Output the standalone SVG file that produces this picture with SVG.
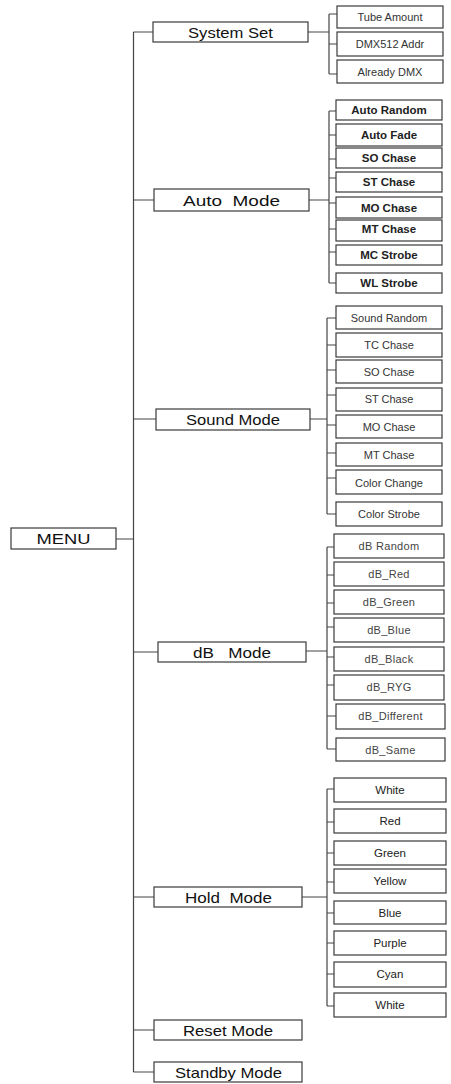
<svg xmlns="http://www.w3.org/2000/svg" width="451" height="1084" viewBox="0 0 451 1084">
<style>
.box{fill:#fff;stroke:#3a3a3a;stroke-width:1.2}
.ln{stroke:#444;stroke-width:1.2;fill:none}
text{font-family:"Liberation Sans",Arial,sans-serif;text-anchor:middle}
.main{font-size:15px;fill:#111}
.sub{font-size:11px;fill:#333}
.b{font-weight:bold;fill:#222;font-size:11.5px}
.h{font-size:11.5px;fill:#222}
.d{font-size:11px;fill:#444;letter-spacing:0.3px}
</style>
<rect width="451" height="1084" fill="#fff"/>
<g id="connectors" class="ln">
<path d="M133.5 32V1072M116 539H133.5"/>
<path d="M133.5 32H153M133.5 200H154M133.5 419H156M133.5 652H158M133.5 897H154M133.5 1030H154M133.5 1072H154"/>
<path d="M308 32H329M329 14V74M329 14H337M329 44H337M329 74H337"/>
<path d="M309 200H329M329 111V283M329 111H336M329 135H336M329 159H336M329 178H336M329 203H336M329 229H336M329 252H336M329 283H336"/>
<path d="M310 419H327M327 318V514M327 318H336M327 345H336M327 370H336M327 395H336M327 425H336M327 453H336M327 478H336M327 514H336"/>
<path d="M306 651H327M327 547V749M327 547H334M327 575H334M327 603H334M327 627H334M327 657H334M327 685H334M327 716H336M327 749H336"/>
<path d="M302 897H327M327 789V1006M327 789H334M327 822H334M327 853H334M327 882H334M327 913H334M327 943H334M327 974H334M327 1006H334"/>
</g>
<g id="menu"><rect class="box" x="11" y="528" width="105" height="21"/><text class="main" x="63.5" y="544" textLength="54" lengthAdjust="spacingAndGlyphs">MENU</text></g>
<g id="system-set"><rect class="box" x="153" y="22" width="155" height="20"/><text class="main" x="230.5" y="37.5" textLength="85" lengthAdjust="spacingAndGlyphs">System Set</text></g>
<g id="tube-amount"><rect class="box" x="337" y="6" width="106" height="22"/><text class="sub" x="390" y="21">Tube Amount</text></g>
<g id="dmx512-addr"><rect class="box" x="337" y="32" width="106" height="24"/><text class="sub" x="390" y="48">DMX512 Addr</text></g>
<g id="already-dmx"><rect class="box" x="337" y="60" width="106" height="23"/><text class="sub" x="390" y="75.5">Already DMX</text></g>
<g id="auto-mode"><rect class="box" x="154" y="189" width="155" height="22"/><text class="main" x="231.5" y="205.5" textLength="97" lengthAdjust="spacingAndGlyphs" xml:space="preserve">Auto  Mode</text></g>
<g id="auto-random"><rect class="box" x="336" y="100" width="106" height="20"/><text class="b" x="389" y="114">Auto Random</text></g>
<g id="auto-fade"><rect class="box" x="336" y="124" width="106" height="22"/><text class="b" x="389" y="139">Auto Fade</text></g>
<g id="auto-so-chase"><rect class="box" x="336" y="148" width="106" height="20"/><text class="b" x="389" y="162">SO Chase</text></g>
<g id="auto-st-chase"><rect class="box" x="336" y="172" width="106" height="20"/><text class="b" x="389" y="186">ST Chase</text></g>
<g id="auto-mo-chase"><rect class="box" x="336" y="197" width="106" height="21"/><text class="b" x="389" y="211.5">MO Chase</text></g>
<g id="auto-mt-chase"><rect class="box" x="336" y="220" width="106" height="21"/><text class="b" x="389" y="233">MT Chase</text></g>
<g id="mc-strobe"><rect class="box" x="336" y="245" width="106" height="20"/><text class="b" x="389" y="258.5">MC Strobe</text></g>
<g id="wl-strobe"><rect class="box" x="336" y="273" width="106" height="20"/><text class="b" x="389" y="287">WL Strobe</text></g>
<g id="sound-mode"><rect class="box" x="156" y="409" width="154" height="21"/><text class="main" x="233" y="425" textLength="94" lengthAdjust="spacingAndGlyphs">Sound Mode</text></g>
<g id="sound-random"><rect class="box" x="336" y="306" width="106" height="23"/><text class="sub" x="389" y="321.5">Sound Random</text></g>
<g id="tc-chase"><rect class="box" x="336" y="333" width="106" height="24"/><text class="sub" x="389" y="349">TC Chase</text></g>
<g id="sound-so-chase"><rect class="box" x="336" y="360" width="106" height="23"/><text class="sub" x="389" y="376">SO Chase</text></g>
<g id="sound-st-chase"><rect class="box" x="336" y="388" width="106" height="23"/><text class="sub" x="389" y="403">ST Chase</text></g>
<g id="sound-mo-chase"><rect class="box" x="336" y="415" width="106" height="23"/><text class="sub" x="389" y="431">MO Chase</text></g>
<g id="sound-mt-chase"><rect class="box" x="336" y="443" width="106" height="23"/><text class="sub" x="389" y="458.5">MT Chase</text></g>
<g id="color-change"><rect class="box" x="336" y="470" width="106" height="24"/><text class="sub" x="389" y="487">Color Change</text></g>
<g id="color-strobe"><rect class="box" x="336" y="502" width="106" height="24"/><text class="sub" x="389" y="518">Color Strobe</text></g>
<g id="db-mode"><rect class="box" x="158" y="642" width="148" height="20"/><text class="main" x="232" y="657.5" textLength="78" lengthAdjust="spacingAndGlyphs" xml:space="preserve">dB   Mode</text></g>
<g id="db-random"><rect class="box" x="334" y="534" width="110" height="24"/><text class="d" x="389" y="550">dB Random</text></g>
<g id="db-red"><rect class="box" x="334" y="562" width="110" height="24"/><text class="d" x="389" y="578">dB_Red</text></g>
<g id="db-green"><rect class="box" x="334" y="590" width="110" height="24"/><text class="d" x="389" y="606">dB_Green</text></g>
<g id="db-blue"><rect class="box" x="334" y="618" width="110" height="24"/><text class="d" x="389" y="634">dB_Blue</text></g>
<g id="db-black"><rect class="box" x="334" y="647" width="110" height="24"/><text class="d" x="389" y="663">dB_Black</text></g>
<g id="db-ryg"><rect class="box" x="334" y="675" width="110" height="25"/><text class="d" x="389" y="691">dB_RYG</text></g>
<g id="db-different"><rect class="box" x="336" y="704" width="109" height="25"/><text class="d" x="390.5" y="720">dB_Different</text></g>
<g id="db-same"><rect class="box" x="336" y="738" width="109" height="23"/><text class="d" x="390.5" y="754">dB_Same</text></g>
<g id="hold-mode"><rect class="box" x="154" y="887" width="148" height="20"/><text class="main" x="228.5" y="902.5" textLength="87" lengthAdjust="spacingAndGlyphs" xml:space="preserve">Hold  Mode</text></g>
<g id="hold-white-1"><rect class="box" x="334" y="778" width="112" height="24"/><text class="h" x="390" y="794">White</text></g>
<g id="hold-red"><rect class="box" x="334" y="809" width="112" height="24"/><text class="h" x="390" y="825">Red</text></g>
<g id="hold-green"><rect class="box" x="334" y="841" width="112" height="24"/><text class="h" x="390" y="857">Green</text></g>
<g id="hold-yellow"><rect class="box" x="334" y="869" width="112" height="24"/><text class="h" x="390" y="885">Yellow</text></g>
<g id="hold-blue"><rect class="box" x="334" y="901" width="112" height="23"/><text class="h" x="390" y="916.5">Blue</text></g>
<g id="hold-purple"><rect class="box" x="334" y="931" width="112" height="24"/><text class="h" x="390" y="947">Purple</text></g>
<g id="hold-cyan"><rect class="box" x="334" y="962" width="112" height="25"/><text class="h" x="390" y="978">Cyan</text></g>
<g id="hold-white-2"><rect class="box" x="334" y="993" width="112" height="24"/><text class="h" x="390" y="1009">White</text></g>
<g id="reset-mode"><rect class="box" x="154" y="1020" width="148" height="20"/><text class="main" x="228" y="1035.5" textLength="90" lengthAdjust="spacingAndGlyphs">Reset Mode</text></g>
<g id="standby-mode"><rect class="box" x="154" y="1062" width="148" height="20"/><text class="main" x="228.5" y="1077.5" textLength="107" lengthAdjust="spacingAndGlyphs">Standby Mode</text></g>
</svg>
